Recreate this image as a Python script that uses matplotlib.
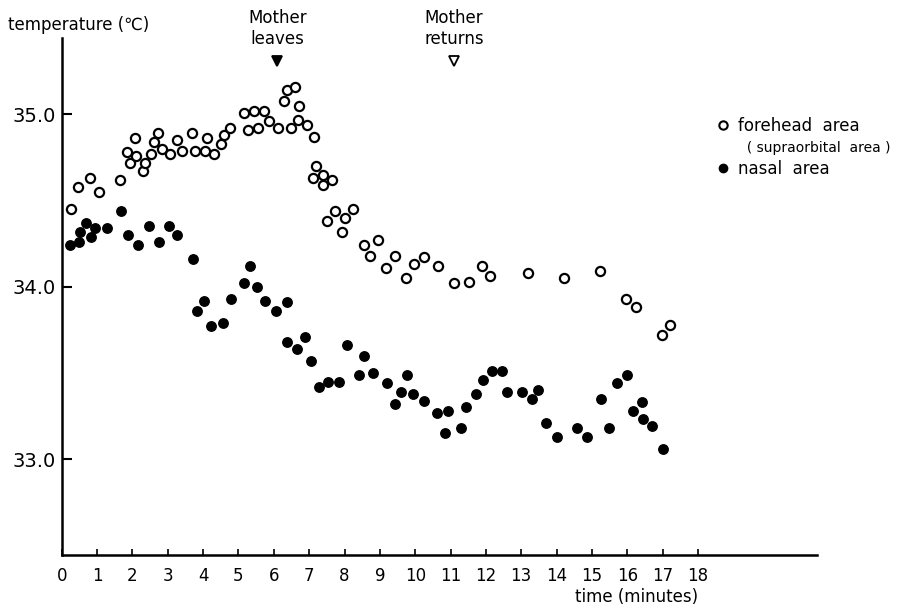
import matplotlib
matplotlib.use("Agg")
import matplotlib.pyplot as plt
from matplotlib.lines import Line2D
import matplotlib.transforms as mtransforms

# forehead (supraorbital) area, open circles
forehead_min = [0.26, 0.45, 0.80, 1.06, 1.65, 1.84, 1.93, 2.10, 2.08, 2.29,
                2.37, 2.52, 2.61, 2.71, 2.83, 3.06, 3.27, 3.39, 3.68, 3.77,
                4.05, 4.10, 4.30, 4.51, 4.59, 4.76, 5.16, 5.27, 5.44, 5.56,
                5.73, 5.86, 6.11, 6.29, 6.36, 6.60, 6.49, 6.70, 6.68, 6.93,
                7.15, 7.19, 7.12, 7.40, 7.40, 7.64, 7.51, 7.74, 7.94, 8.02,
                8.25, 8.55, 8.72, 8.96, 9.17, 9.44, 9.73, 9.98, 10.26, 10.65,
                11.10, 11.52, 11.90, 12.13, 13.19, 14.22, 15.23, 15.96, 16.25, 16.99,
                17.21]
forehead_temp = [34.45, 34.58, 34.63, 34.55, 34.62, 34.78, 34.72, 34.76, 34.86, 34.67,
                 34.72, 34.77, 34.84, 34.89, 34.80, 34.77, 34.85, 34.79, 34.89, 34.79,
                 34.79, 34.86, 34.77, 34.83, 34.88, 34.92, 35.01, 34.91, 35.02, 34.92,
                 35.02, 34.96, 34.92, 35.08, 35.14, 35.16, 34.92, 35.05, 34.97, 34.94,
                 34.87, 34.70, 34.63, 34.65, 34.59, 34.62, 34.38, 34.44, 34.32, 34.40,
                 34.45, 34.24, 34.18, 34.27, 34.11, 34.18, 34.05, 34.13, 34.17, 34.12,
                 34.02, 34.03, 34.12, 34.06, 34.08, 34.05, 34.09, 33.93, 33.88, 33.72,
                 33.78]

# nasal area, filled circles
nasal_min = [0.23, 0.50, 0.52, 0.69, 0.83, 0.94, 1.27, 1.67, 1.88, 2.17,
             2.48, 2.75, 3.04, 3.27, 3.72, 3.84, 4.03, 4.22, 4.57, 4.78,
             5.16, 5.33, 5.53, 5.76, 6.06, 6.36, 6.38, 6.67, 6.89, 7.04,
             7.28, 7.54, 7.85, 8.06, 8.41, 8.55, 8.80, 9.21, 9.78, 9.59,
             9.43, 9.93, 10.25, 10.61, 10.92, 10.84, 11.29, 11.43, 11.72, 11.93,
             12.16, 12.45, 12.60, 13.01, 13.30, 13.46, 13.70, 14.02, 14.57, 14.85,
             15.27, 15.47, 15.72, 15.98, 16.17, 16.43, 16.45, 16.71, 17.02]
nasal_temp = [34.24, 34.26, 34.32, 34.37, 34.29, 34.34, 34.34, 34.44, 34.30, 34.24,
              34.35, 34.26, 34.35, 34.30, 34.16, 33.86, 33.92, 33.77, 33.79, 33.93,
              34.02, 34.12, 34.00, 33.92, 33.86, 33.91, 33.68, 33.64, 33.71, 33.57,
              33.42, 33.45, 33.45, 33.66, 33.49, 33.60, 33.50, 33.44, 33.49, 33.39,
              33.32, 33.38, 33.34, 33.27, 33.28, 33.15, 33.18, 33.30, 33.38, 33.46,
              33.51, 33.51, 33.39, 33.39, 33.35, 33.40, 33.21, 33.13, 33.18, 33.13,
              33.35, 33.18, 33.44, 33.49, 33.28, 33.33, 33.23, 33.19, 33.06]

event_labels = ["Mother\nleaves", "Mother\nreturns"]
event_times = [6.1, 11.1]
event_filled = [True, False]

x_ticks = list(range(0, 19))
y_ticks = [33.0, 34.0, 35.0]
y_ticklabels = ["33.0", "34.0", "35.0"]

fig = plt.figure(figsize=(9.09, 6.07), dpi=100)
ax = fig.add_axes([0.0679, 0.0857, 0.831, 0.8517])

ax.plot(forehead_min, forehead_temp, ls="", marker="o", ms=6.6, mfc="white",
        mec="black", mew=1.6, clip_on=False)
ax.plot(nasal_min, nasal_temp, ls="", marker="o", ms=6.8, mfc="black",
        mec="black", clip_on=False)

ax.set_xlim(0, 21.37)
ax.set_ylim(32.444, 35.443)
ax.spines["top"].set_visible(False)
ax.spines["right"].set_visible(False)
ax.spines["left"].set_linewidth(1.8)
ax.spines["bottom"].set_linewidth(1.8)

ax.set_xticks(x_ticks)
ax.set_xticklabels([str(t) for t in x_ticks], fontsize=12)
ax.set_yticks(y_ticks)
ax.set_yticklabels(y_ticklabels, fontsize=14)
ax.tick_params(axis="x", direction="in", length=4, width=1.2, pad=9)
ax.tick_params(axis="y", direction="in", length=7, width=1.5, pad=4)

# event markers above the data
trans = mtransforms.blended_transform_factory(ax.transData, ax.transAxes)
for label, t, filled in zip(event_labels, event_times, event_filled):
    ax.text(t, 0.981, label, transform=trans, ha="center", va="bottom",
            fontsize=12, linespacing=1.2, clip_on=False)
    ax.plot([t], [35.31], marker="v", ms=7, ls="",
            mfc="black" if filled else "white", mec="black", mew=1.3,
            clip_on=False)

fig.text(8 / 909, 1 - 25 / 607, "temperature (℃)", fontsize=12,
         ha="left", va="center")
fig.text(637 / 909, 1 - 597 / 607, "time (minutes)", fontsize=12,
         ha="center", va="center")

handles = [Line2D([], [], ls="", marker="o", ms=6, mfc="white", mec="black", mew=1.5),
           Line2D([], [], ls="", marker=""),
           Line2D([], [], ls="", marker="o", ms=6, mfc="black", mec="black")]
labels = ["forehead  area", "  ( supraorbital  area )", "nasal  area"]
leg = fig.legend(handles, labels, loc="upper left",
                 bbox_to_anchor=(716 / 909, 1 - 117 / 607),
                 frameon=False, fontsize=12, handlelength=0.8,
                 handletextpad=0.5, borderpad=0, borderaxespad=0,
                 labelspacing=0.3)
leg.get_texts()[1].set_fontsize(10)

fig.savefig("out.png", dpi=100, facecolor="white")
